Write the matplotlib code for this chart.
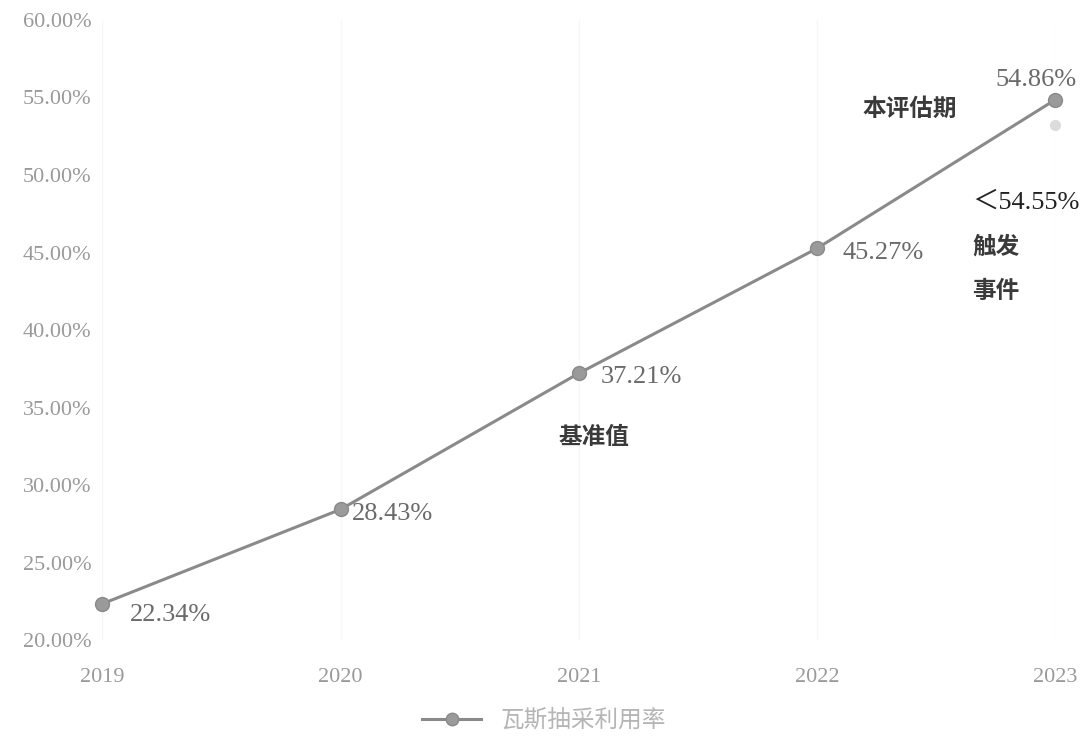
import matplotlib
matplotlib.use("Agg")
import matplotlib.pyplot as plt
from matplotlib.ticker import FuncFormatter, MultipleLocator

years = ["2019", "2020", "2021", "2022", "2023"]
rates = [22.34, 28.43, 37.21, 45.27, 54.86]
rate_labels = ["22.34%", "28.43%", "37.21%", "45.27%", "54.86%"]
series_name = "瓦斯抽采利用率"
extra_dot_value = 53.2
threshold_label = "＜54.55%"

plt.rcParams['font.family'] = ['Liberation Serif', 'Noto Sans CJK SC', 'DejaVu Sans']

fig = plt.figure(figsize=(10.88, 7.4), dpi=100)
ax = fig.add_axes([0.094, 0.135, 0.876, 0.838])

x = list(range(len(years)))
line, = ax.plot(x, rates, color="#8a8a8a", lw=2.2, marker="o", ms=10,
                markerfacecolor="#9a9a9a", markeredgecolor="#8a8a8a",
                label=series_name, zorder=3, clip_on=False)
ax.plot([x[-1]], [extra_dot_value], marker="o", ms=7, color="#dcdcdc",
        ls="none", zorder=2, clip_on=False)

ax.set_xlim(0, 4)
ax.set_ylim(20, 60)
ax.yaxis.set_major_locator(MultipleLocator(5))
ax.yaxis.set_major_formatter(FuncFormatter(lambda v, p: f"{v:.2f}%"))
ax.set_xticks(x)
ax.set_xticklabels(years)
for s in ax.spines.values():
    s.set_visible(False)
ax.tick_params(length=0, colors="#9a9a9a", labelsize=16)
ax.tick_params(axis="y", pad=8)
ax.tick_params(axis="x", pad=20)
ax.grid(axis="x", color="#f7f7f7", lw=1)

# data labels
offsets = [(20, -8, "left"), (8, -3, "left"), (16, -3, "left"), (18, -3, "left"), (-14, 14, "center")]
for xi, yi, lab, (dx, dy, ha) in zip(x, rates, rate_labels, offsets):
    ax.annotate(lab, (xi, yi), xytext=(dx, dy), textcoords="offset points",
                ha=ha, va="center", fontsize=19, color="#6a6a6a", annotation_clip=False)

cjk = ['Noto Sans CJK SC', 'DejaVu Sans']
ax.annotate("本评估期", (x[-1], rates[-1]), xytext=(-139, -7), textcoords="offset points",
            ha="left", va="center", fontsize=17, fontweight="bold", color="#3a3a3a",
            family=cjk, annotation_clip=False)
ax.annotate(threshold_label, (x[-1], rates[-1]), xytext=(-60, -74), textcoords="offset points",
            ha="left", va="center", fontsize=19, color="#222222", annotation_clip=False,
            family=['Liberation Serif', 'Noto Sans CJK SC'])
ax.annotate("触发", (x[-1], rates[-1]), xytext=(-60, -106), textcoords="offset points",
            ha="left", va="center", fontsize=17, fontweight="bold", color="#3a3a3a",
            family=cjk, annotation_clip=False)
ax.annotate("事件", (x[-1], rates[-1]), xytext=(-60, -138), textcoords="offset points",
            ha="left", va="center", fontsize=17, fontweight="bold", color="#3a3a3a",
            family=cjk, annotation_clip=False)
ax.annotate("基准值", (x[2], rates[2]), xytext=(-15, -46), textcoords="offset points",
            ha="left", va="center", fontsize=17, fontweight="bold", color="#3a3a3a",
            family=cjk, annotation_clip=False)

leg = fig.legend(handles=[line], loc="lower center", bbox_to_anchor=(0.5, -0.018),
                 frameon=False, handlelength=2.5, markerscale=0.9,
                 prop={'family': cjk, 'size': 17})
for t in leg.get_texts():
    t.set_color("#b5b5b5")

fig.savefig("out.png", dpi=100, facecolor="white")
